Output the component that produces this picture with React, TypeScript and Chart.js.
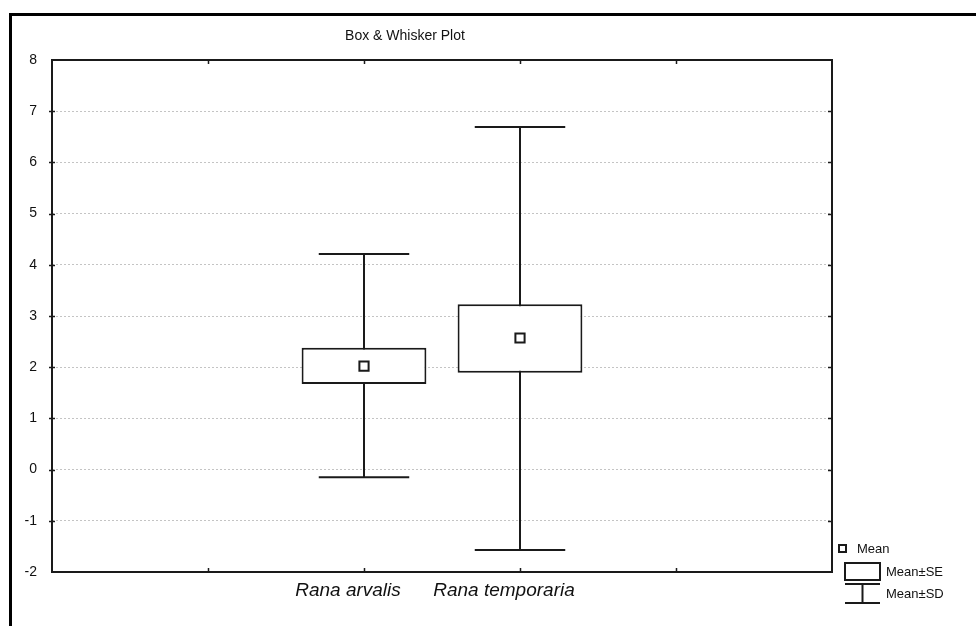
import React, { useEffect, useRef } from 'react';
import { Chart, registerables } from 'chart.js';

Chart.register(...registerables);

// ---- data ----
const categories = ['Rana arvalis', 'Rana temporaria'];
const categoryPositions = [2, 3];
const means = [2.02, 2.57];
const seLow = [1.67, 1.89];
const seHigh = [2.38, 3.23];
const sdLow = [-0.15, -1.57];
const sdHigh = [4.21, 6.69];
const xTickValues = [1, 2, 3, 4];
const yMin = -2;
const yMax = 8;
const xMin = 0;
const xMax = 5;
const titleText = 'Box & Whisker Plot';
const legendLabels = ['Mean', 'Mean±SE', 'Mean±SD'];

const CAP_HALF = 0.29;
const FONT = 'Arial, "Liberation Sans", sans-serif';
const INK = '#1a1a1a';

const framePlugin = {
  id: 'framePlugin',
  afterDatasetsDraw(chart: any) {
    const { ctx, chartArea: a, scales } = chart;
    ctx.save();
    ctx.strokeStyle = INK;
    ctx.lineWidth = 2;
    ctx.strokeRect(a.left, a.top, a.right - a.left, a.bottom - a.top);
    ctx.lineWidth = 1.5;
    ctx.beginPath();
    for (let v = yMin + 1; v < yMax; v++) {
      const y = Math.round(scales.y.getPixelForValue(v)) + 0.5;
      ctx.moveTo(a.left - 3, y);
      ctx.lineTo(a.left + 3, y);
      ctx.moveTo(a.right - 4, y);
      ctx.lineTo(a.right, y);
    }
    for (const v of xTickValues) {
      const x = Math.round(scales.x.getPixelForValue(v)) + 0.5;
      ctx.moveTo(x, a.bottom);
      ctx.lineTo(x, a.bottom - 4);
      ctx.moveTo(x, a.top);
      ctx.lineTo(x, a.top + 4);
    }
    ctx.stroke();
    ctx.restore();
  },
  afterDraw(chart: any) {
    const { ctx } = chart;
    ctx.save();
    ctx.fillStyle = '#111';
    ctx.font = `14px ${FONT}`;
    ctx.textAlign = 'center';
    ctx.textBaseline = 'middle';
    ctx.fillText(titleText, 405, 36);

    // legend
    ctx.strokeStyle = INK;
    ctx.lineWidth = 2;
    ctx.strokeRect(839, 545, 7, 7);
    ctx.strokeRect(845, 563, 35, 17);
    ctx.beginPath();
    ctx.moveTo(845, 584);
    ctx.lineTo(880, 584);
    ctx.moveTo(862.5, 584);
    ctx.lineTo(862.5, 603);
    ctx.moveTo(845, 603);
    ctx.lineTo(880, 603);
    ctx.stroke();
    ctx.fillStyle = '#111';
    ctx.font = `13px ${FONT}`;
    ctx.textAlign = 'left';
    ctx.fillText(legendLabels[0], 857, 549);
    ctx.fillText(legendLabels[1], 886, 572);
    ctx.fillText(legendLabels[2], 886, 594);
    ctx.restore();
  },
};

export default function App() {
  const canvasRef = useRef<HTMLCanvasElement | null>(null);

  useEffect(() => {
    const lineDs = (data: any[]) => ({
      type: 'line',
      data,
      borderColor: INK,
      borderWidth: 2,
      pointRadius: 0,
      fill: false,
      order: 3,
    });
    const whiskers: any[] = [];
    categoryPositions.forEach((p, i) => {
      whiskers.push(lineDs([{ x: p, y: sdLow[i] }, { x: p, y: sdHigh[i] }]));
      whiskers.push(lineDs([{ x: p - CAP_HALF, y: sdHigh[i] }, { x: p + CAP_HALF, y: sdHigh[i] }]));
      whiskers.push(lineDs([{ x: p - CAP_HALF, y: sdLow[i] }, { x: p + CAP_HALF, y: sdLow[i] }]));
    });

    const chart = new Chart(canvasRef.current as HTMLCanvasElement, {
      type: 'bar',
      data: {
        datasets: [
          ...whiskers,
          {
            type: 'bar',
            data: categoryPositions.map((p, i) => ({ x: p, y: [seLow[i], seHigh[i]] })),
            backgroundColor: '#fff',
            borderColor: INK,
            borderWidth: 2,
            borderSkipped: false,
            categoryPercentage: 0.8,
            barPercentage: 1,
            order: 2,
          },
          {
            type: 'scatter',
            data: categoryPositions.map((p, i) => ({ x: p, y: means[i] })),
            pointStyle: 'rect',
            pointRadius: 6.5,
            backgroundColor: '#fff',
            borderColor: INK,
            borderWidth: 2,
            order: 1,
          },
        ] as any,
      },
      options: {
        animation: false,
        responsive: false,
        maintainAspectRatio: false,
        events: [],
        layout: { padding: { left: 0, top: 60, right: 144, bottom: 0 } },
        plugins: {
          legend: { display: false },
          title: { display: false },
          tooltip: { enabled: false },
        },
        scales: {
          x: {
            type: 'linear',
            min: xMin,
            max: xMax,
            offset: false,
            grid: { display: false, offset: false, drawTicks: false },
            border: { display: false },
            afterFit: (s: any) => { s.height = 54; },
            afterBuildTicks: (s: any) => {
              s.ticks = categoryPositions.map((v) => ({ value: v }));
            },
            ticks: {
              autoSkip: false,
              maxRotation: 0,
              padding: 7,
              labelOffset: -16,
              color: '#111',
              font: { family: FONT, size: 19, style: 'italic' },
              callback: (v: any) => {
                const idx = categoryPositions.indexOf(Number(v));
                return idx >= 0 ? categories[idx] : '';
              },
            },
          },
          y: {
            type: 'linear',
            min: yMin,
            max: yMax,
            grid: { color: '#c4c4c4', lineWidth: 1, drawTicks: false },
            border: { display: false, dash: [2, 2] },
            afterFit: (s: any) => { s.width = 52; },
            ticks: {
              stepSize: 1,
              padding: 15,
              color: '#111',
              font: { family: FONT, size: 14 },
            },
          },
        },
      } as any,
      plugins: [framePlugin],
    });
    return () => chart.destroy();
  }, []);

  return (
    <div style={{ position: 'fixed', left: 0, top: 0, width: 976, height: 626, background: '#fff' }}>
      <div
        style={{
          position: 'absolute',
          left: 9,
          top: 13,
          right: -10,
          bottom: -10,
          borderTop: '3px solid #000',
          borderLeft: '3px solid #000',
        }}
      />
      <canvas ref={canvasRef} width={976} height={626} style={{ position: 'absolute', left: 0, top: 0 }} />
    </div>
  );
}
